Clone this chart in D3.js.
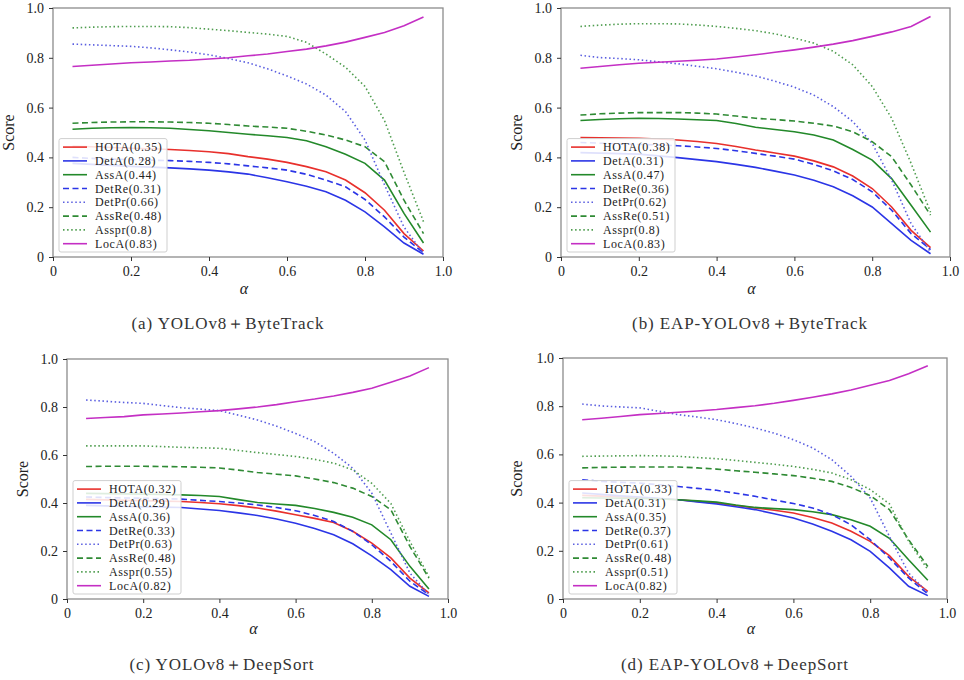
<!DOCTYPE html>
<html>
<head>
<meta charset="utf-8">
<script src="https://cdn.jsdelivr.net/npm/d3@7/dist/d3.min.js"></script>
<style>
  body { margin: 0; background: #fff; }
</style>
</head>
<body>
<svg id="chart" width="964" height="680"></svg>
<script>
// alpha thresholds
const alphas = [0.05, 0.10, 0.15, 0.20, 0.25, 0.30, 0.35, 0.40, 0.45, 0.50,
                0.55, 0.60, 0.65, 0.70, 0.75, 0.80, 0.85, 0.90, 0.95];

const metricNames = ['HOTA', 'DetA', 'AssA', 'DetRe', 'DetPr', 'AssRe', 'Asspr', 'LocA'];

const xTicks = [0, 0.2, 0.4, 0.6, 0.8, 1.0];
const yTicks = [0, 0.2, 0.4, 0.6, 0.8, 1.0];

const captions = ['(a) YOLOv8＋ByteTrack', '(b) EAP-YOLOv8＋ByteTrack',
                  '(c) YOLOv8＋DeepSort', '(d) EAP-YOLOv8＋DeepSort'];

// legend numbers per panel
const legendA = [0.35, 0.28, 0.44, 0.31, 0.66, 0.48, 0.8, 0.83];
const legendB = [0.38, 0.31, 0.47, 0.36, 0.62, 0.51, 0.8, 0.83];
const legendC = [0.32, 0.29, 0.36, 0.33, 0.63, 0.48, 0.55, 0.82];
const legendD = [0.33, 0.31, 0.35, 0.37, 0.61, 0.48, 0.51, 0.82];

// (a) YOLOv8 + ByteTrack
const scoresA = [
  [.445,.443,.440,.437,.435,.432,.428,.423,.415,.403,.393,.380,.363,.342,.309,.258,.188,.094,.024],
  [.376,.372,.368,.364,.361,.358,.354,.349,.342,.333,.318,.302,.284,.262,.228,.181,.121,.056,.011],
  [.513,.517,.519,.520,.519,.517,.512,.507,.500,.493,.487,.480,.467,.443,.413,.376,.309,.175,.056],
  [.400,.396,.393,.391,.389,.387,.384,.380,.374,.366,.358,.349,.332,.309,.282,.231,.161,.080,.017],
  [.855,.852,.849,.846,.840,.832,.823,.812,.797,.780,.756,.727,.695,.650,.584,.470,.290,.120,.013],
  [.537,.540,.542,.543,.543,.542,.540,.537,.532,.526,.522,.517,.505,.490,.470,.443,.383,.228,.094],
  [.920,.923,.925,.926,.926,.925,.921,.915,.909,.902,.895,.886,.862,.815,.762,.685,.548,.340,.142],
  [.765,.770,.775,.780,.783,.787,.790,.795,.800,.808,.815,.825,.835,.848,.863,.882,.902,.929,.964]
];

// (b) EAP-YOLOv8 + ByteTrack
const scoresB = [
  [.480,.479,.478,.477,.474,.470,.464,.456,.444,.430,.418,.405,.386,.362,.325,.275,.201,.107,.038],
  [.419,.417,.415,.413,.406,.399,.391,.383,.372,.360,.345,.329,.308,.282,.246,.201,.134,.067,.013],
  [.548,.552,.555,.557,.556,.554,.551,.548,.536,.521,.512,.503,.490,.470,.432,.389,.315,.208,.100],
  [.460,.457,.454,.452,.450,.447,.442,.436,.427,.416,.405,.393,.372,.346,.311,.262,.188,.094,.030],
  [.810,.801,.797,.792,.784,.776,.766,.756,.742,.727,.706,.682,.650,.604,.544,.456,.309,.134,.020],
  [.570,.575,.578,.580,.580,.580,.578,.574,.566,.557,.552,.546,.537,.526,.503,.463,.403,.289,.168],
  [.926,.931,.935,.937,.937,.936,.932,.926,.918,.909,.896,.879,.859,.826,.772,.685,.557,.376,.180],
  [.758,.765,.772,.778,.782,.786,.790,.795,.803,.812,.822,.832,.843,.855,.869,.886,.904,.926,.966]
];

// (c) YOLOv8 + DeepSort
const scoresC = [
  [.415,.413,.411,.410,.408,.406,.402,.397,.389,.379,.366,.351,.336,.319,.282,.233,.171,.087,.025],
  [.390,.388,.386,.384,.383,.381,.375,.369,.359,.348,.333,.316,.294,.268,.230,.180,.122,.053,.011],
  [.440,.439,.438,.437,.436,.434,.431,.427,.414,.402,.396,.390,.377,.361,.341,.309,.247,.136,.042],
  [.425,.423,.421,.420,.418,.416,.411,.406,.400,.392,.381,.368,.348,.323,.282,.226,.157,.074,.018],
  [.829,.824,.819,.815,.806,.797,.791,.785,.766,.746,.720,.690,.656,.607,.545,.441,.275,.108,.018],
  [.552,.553,.553,.553,.552,.551,.549,.546,.537,.527,.520,.513,.500,.485,.462,.427,.372,.219,.087],
  [.638,.638,.638,.638,.635,.632,.630,.628,.619,.610,.602,.594,.582,.566,.538,.482,.398,.240,.093],
  [.752,.756,.760,.767,.771,.775,.780,.785,.792,.800,.810,.822,.833,.846,.861,.878,.903,.929,.964]
];

// (d) EAP-YOLOv8 + DeepSort
const scoresD = [
  [.430,.427,.423,.420,.416,.412,.405,.398,.388,.378,.368,.357,.338,.315,.281,.239,.180,.094,.032],
  [.440,.434,.428,.423,.418,.412,.403,.394,.383,.371,.354,.336,.311,.281,.246,.198,.129,.053,.014],
  [.420,.419,.418,.417,.415,.412,.407,.402,.390,.380,.375,.371,.362,.350,.329,.302,.252,.163,.078],
  [.495,.488,.484,.481,.474,.467,.459,.451,.439,.426,.411,.396,.378,.350,.308,.246,.170,.087,.022],
  [.809,.801,.797,.793,.779,.765,.755,.744,.728,.710,.688,.661,.627,.578,.509,.419,.260,.108,.025],
  [.544,.546,.547,.548,.548,.548,.544,.539,.532,.526,.519,.512,.501,.488,.463,.429,.371,.246,.135],
  [.592,.593,.594,.595,.594,.592,.587,.582,.575,.567,.559,.550,.538,.523,.495,.454,.395,.240,.122],
  [.744,.750,.757,.765,.770,.775,.780,.786,.794,.802,.812,.824,.837,.851,.867,.887,.907,.935,.968]
];

// line look per metric
const colors = ['#e8302c', '#2b35e6', '#23892a', '#2b35e6', '#5a5ee0', '#2f8a34', '#4f9d4f', '#c42fc4'];
const dashes = [null, null, null, '6,3.5', '1.5,2.6', '6,3.5', '1.5,2.6', null];

const serif = "'Liberation Serif', 'Times New Roman', 'DejaVu Serif', serif";

// plot boxes: left, right, bottom (y=0), top (y=1)
const panels = [
  { x0: 53,  x1: 443, y0: 257, y1: 8,   scores: scoresA, legend: legendA, cap: captions[0], capX: 228, labY: 294, capY: 329, scoreX: 14 },
  { x0: 561, x1: 950, y0: 257, y1: 8,   scores: scoresB, legend: legendB, cap: captions[1], capX: 750, labY: 294, capY: 329, scoreX: 522 },
  { x0: 67,  x1: 448, y0: 599, y1: 359, scores: scoresC, legend: legendC, cap: captions[2], capX: 222, labY: 634, capY: 670, scoreX: 28 },
  { x0: 563, x1: 947, y0: 599, y1: 358, scores: scoresD, legend: legendD, cap: captions[3], capX: 735, labY: 634, capY: 670, scoreX: 522 }
];

const svg = d3.select('#chart');

function drawPanel(p) {
  const x = d3.scaleLinear().domain([0, 1]).range([p.x0, p.x1]);
  const y = d3.scaleLinear().domain([0, 1]).range([p.y0, p.y1]);
  const g = svg.append('g');

  // frame
  g.append('rect')
    .attr('x', p.x0).attr('y', p.y1)
    .attr('width', p.x1 - p.x0).attr('height', p.y0 - p.y1)
    .attr('fill', 'none').attr('stroke', '#8c8c8c').attr('stroke-width', 1.3);

  const fmt = d => d === 0 ? '0' : d.toFixed(1);

  const xAxis = g.append('g')
    .attr('transform', `translate(0,${p.y0})`)
    .call(d3.axisBottom(x).tickValues(xTicks).tickFormat(fmt).tickSize(4).tickPadding(5));
  const yAxis = g.append('g')
    .attr('transform', `translate(${p.x0},0)`)
    .call(d3.axisLeft(y).tickValues(yTicks).tickFormat(fmt).tickSize(4).tickPadding(5));
  [xAxis, yAxis].forEach(a => {
    a.attr('font-family', null);
    a.select('.domain').remove();
    a.selectAll('.tick line').attr('stroke', '#333');
    a.selectAll('.tick text')
      .style('font-family', serif)
      .style('font-size', '14px').attr('fill', '#222');
  });

  // curves
  const line = d3.line().x((d, i) => x(alphas[i])).y(d => y(d));
  p.scores.forEach((vals, k) => {
    g.append('path')
      .datum(vals)
      .attr('d', line)
      .attr('fill', 'none')
      .attr('stroke', colors[k])
      .attr('stroke-width', 1.6)
      .attr('stroke-dasharray', dashes[k]);
  });

  // legend bottom-left
  const rowH = 13.8;
  const lw = 108, lh = metricNames.length * rowH + 3;
  const lx = p.x0 + 6, ly = p.y0 - 5 - lh;
  const leg = g.append('g').attr('transform', `translate(${lx},${ly})`);
  leg.append('rect')
    .attr('width', lw).attr('height', lh).attr('rx', 2)
    .attr('fill', '#fff').attr('fill-opacity', 0.85)
    .attr('stroke', '#cfcfcf').attr('stroke-width', 1);
  metricNames.forEach((name, k) => {
    const cy = 8.5 + k * rowH;
    leg.append('line')
      .attr('x1', 4).attr('x2', 28).attr('y1', cy).attr('y2', cy)
      .attr('stroke', colors[k]).attr('stroke-width', 1.6)
      .attr('stroke-dasharray', dashes[k]);
    leg.append('text')
      .attr('x', 36).attr('y', cy + 4.2)
      .style('font-family', serif)
      .style('font-size', '12px')
      .style('letter-spacing', '0.6px')
      .attr('fill', '#222')
      .text(`${name}(${p.legend[k]})`);
  });

  // axis labels
  g.append('text')
    .attr('transform', `translate(${p.scoreX},${(p.y0 + p.y1) / 2}) rotate(-90)`)
    .attr('text-anchor', 'middle')
    .style('font-family', serif)
    .style('font-size', '16px')
    .attr('fill', '#222')
    .text('Score');
  g.append('text')
    .attr('x', (p.x0 + p.x1) / 2 - 4).attr('y', p.labY)
    .attr('text-anchor', 'middle')
    .style('font-family', serif)
    .style('font-size', '16px').style('font-style', 'italic')
    .attr('fill', '#222')
    .text('α');

  // caption
  g.append('text')
    .attr('x', p.capX).attr('y', p.capY)
    .attr('text-anchor', 'middle')
    .style('font-family', serif)
    .style('font-size', '17px').style('letter-spacing', '0.9px')
    .attr('fill', '#333')
    .text(p.cap);
}

panels.forEach(drawPanel);
</script>
</body>
</html>
